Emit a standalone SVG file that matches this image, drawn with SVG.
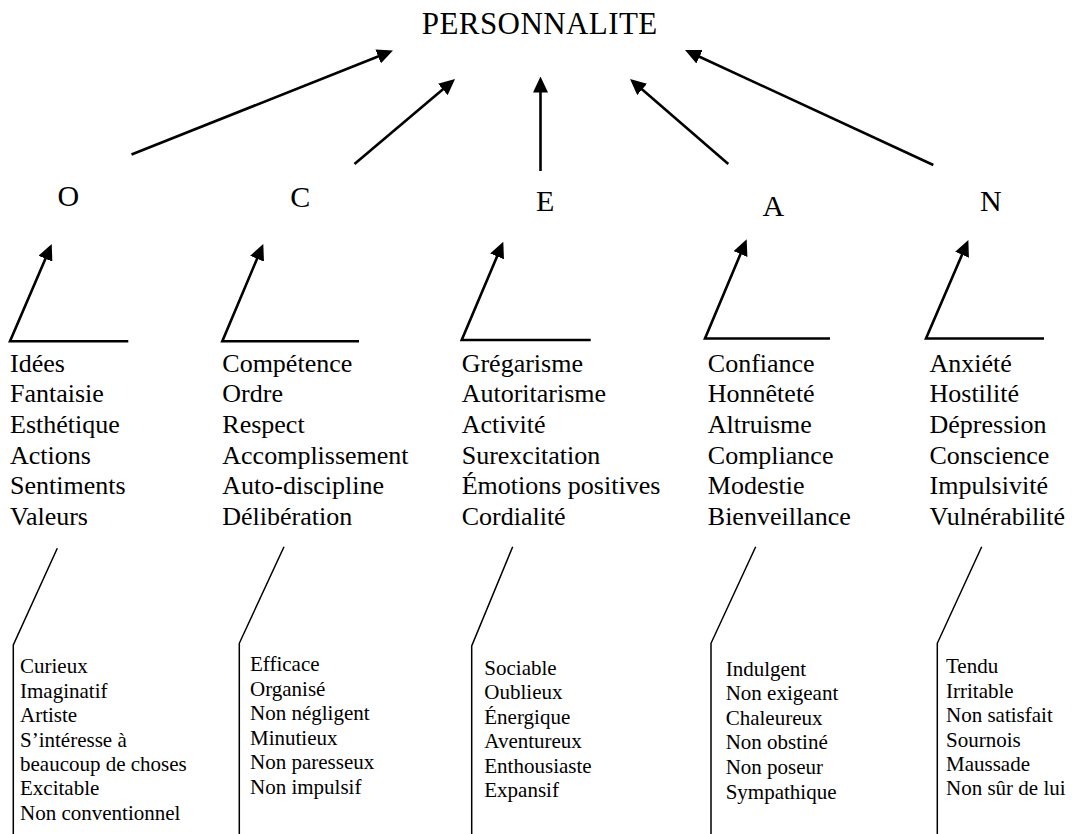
<svg xmlns="http://www.w3.org/2000/svg" width="1075" height="834" viewBox="0 0 1075 834">
<style>
text{font-family:"Liberation Serif","Times New Roman",serif;fill:#000}
.title{font-size:31px}
.dim{font-size:30px;text-anchor:middle}
.facet{font-size:26px}
.adj{font-size:21px}
.arr{fill:none;stroke:#000;stroke-width:2.6}
.brk{fill:none;stroke:#000;stroke-width:1.5}
</style>
<defs>
<marker id="ah" markerUnits="userSpaceOnUse" markerWidth="16" markerHeight="15" refX="6" refY="7.5" orient="auto" viewBox="0 0 16 15">
<path d="M0,0 L16,7.5 L0,15 z" fill="#000"/>
</marker>
</defs>
<rect width="1075" height="834" fill="#fff"/>
<g id="connectors">
<line class="arr" x1="131.5" y1="154.5" x2="383.7" y2="54.2" marker-end="url(#ah)"/>
<line class="arr" x1="354.5" y1="164" x2="447.4" y2="85.5" marker-end="url(#ah)"/>
<line class="arr" x1="540.5" y1="171" x2="540.5" y2="86.5" marker-end="url(#ah)"/>
<line class="arr" x1="728.3" y1="164" x2="637.6" y2="85.5" marker-end="url(#ah)"/>
<line class="arr" x1="933.3" y1="165" x2="694.1" y2="54.2" marker-end="url(#ah)"/>
<polyline class="arr" points="128.3,341.3 10,341.3 47.8,253.2" marker-end="url(#ah)"/>
<polyline class="arr" points="359,341.3 222.3,341.3 259.4,253.2" marker-end="url(#ah)"/>
<polyline class="arr" points="590.7,340 461.7,340 499.4,250.9" marker-end="url(#ah)"/>
<polyline class="arr" points="830,338.5 705,338.5 742.8,248.5" marker-end="url(#ah)"/>
<polyline class="arr" points="1044,338.5 926,338.5 964.4,249.2" marker-end="url(#ah)"/>
<polyline class="brk" points="57.3,548.3 13.3,645 13.3,834"/>
<polyline class="brk" points="284,546.7 239.3,643.3 239.3,834"/>
<polyline class="brk" points="512.7,546.7 471.7,646 471.7,834"/>
<polyline class="brk" points="755.7,546.7 711,643.3 711,834"/>
<polyline class="brk" points="981.7,546.7 937.3,643.3 937.3,834"/>
</g>
<g id="node-personnalite"><text class="title" x="421.7" y="34.3" textLength="235.6" lengthAdjust="spacing">PERSONNALITE</text></g>
<g id="node-O"><text class="dim" x="68.3" y="206">O</text></g>
<g id="node-C"><text class="dim" x="300.3" y="206.7">C</text></g>
<g id="node-E"><text class="dim" x="545.2" y="211">E</text></g>
<g id="node-A"><text class="dim" x="773.3" y="216">A</text></g>
<g id="node-N"><text class="dim" x="990.8" y="210.7">N</text></g>
<g id="facets-O"><text class="facet" x="10" y="371.7">Idées<tspan x="10" dy="30.6">Fantaisie</tspan><tspan x="10" dy="30.6">Esthétique</tspan><tspan x="10" dy="30.6">Actions</tspan><tspan x="10" dy="30.6">Sentiments</tspan><tspan x="10" dy="30.6">Valeurs</tspan></text></g>
<g id="facets-C"><text class="facet" x="222.3" y="371.7">Compétence<tspan x="222.3" dy="30.6">Ordre</tspan><tspan x="222.3" dy="30.6">Respect</tspan><tspan x="222.3" dy="30.6">Accomplissement</tspan><tspan x="222.3" dy="30.6">Auto-discipline</tspan><tspan x="222.3" dy="30.6">Délibération</tspan></text></g>
<g id="facets-E"><text class="facet" x="461.7" y="371.7">Grégarisme<tspan x="461.7" dy="30.6">Autoritarisme</tspan><tspan x="461.7" dy="30.6">Activité</tspan><tspan x="461.7" dy="30.6">Surexcitation</tspan><tspan x="461.7" dy="30.6">Émotions positives</tspan><tspan x="461.7" dy="30.6">Cordialité</tspan></text></g>
<g id="facets-A"><text class="facet" x="707.8" y="371.7">Confiance<tspan x="707.8" dy="30.6">Honnêteté</tspan><tspan x="707.8" dy="30.6">Altruisme</tspan><tspan x="707.8" dy="30.6">Compliance</tspan><tspan x="707.8" dy="30.6">Modestie</tspan><tspan x="707.8" dy="30.6">Bienveillance</tspan></text></g>
<g id="facets-N"><text class="facet" x="929.5" y="371.7">Anxiété<tspan x="929.5" dy="30.6">Hostilité</tspan><tspan x="929.5" dy="30.6">Dépression</tspan><tspan x="929.5" dy="30.6">Conscience</tspan><tspan x="929.5" dy="30.6">Impulsivité</tspan><tspan x="929.5" dy="30.6">Vulnérabilité</tspan></text></g>
<g id="adjectives-O"><text class="adj" x="20" y="673.3">Curieux<tspan x="20" dy="24.4">Imaginatif</tspan><tspan x="20" dy="24.4">Artiste</tspan><tspan x="20" dy="24.4">S’intéresse à</tspan><tspan x="20" dy="24.4">beaucoup de choses</tspan><tspan x="20" dy="24.4">Excitable</tspan><tspan x="20" dy="24.4">Non conventionnel</tspan></text></g>
<g id="adjectives-C"><text class="adj" x="250" y="671">Efficace<tspan x="250" dy="24.5">Organisé</tspan><tspan x="250" dy="24.5">Non négligent</tspan><tspan x="250" dy="24.5">Minutieux</tspan><tspan x="250" dy="24.5">Non paresseux</tspan><tspan x="250" dy="24.5">Non impulsif</tspan></text></g>
<g id="adjectives-E"><text class="adj" x="484.3" y="675">Sociable<tspan x="484.3" dy="24.4">Oublieux</tspan><tspan x="484.3" dy="24.4">Énergique</tspan><tspan x="484.3" dy="24.4">Aventureux</tspan><tspan x="484.3" dy="24.4">Enthousiaste</tspan><tspan x="484.3" dy="24.4">Expansif</tspan></text></g>
<g id="adjectives-A"><text class="adj" x="725.7" y="675.5">Indulgent<tspan x="725.7" dy="24.6">Non exigeant</tspan><tspan x="725.7" dy="24.6">Chaleureux</tspan><tspan x="725.7" dy="24.6">Non obstiné</tspan><tspan x="725.7" dy="24.6">Non poseur</tspan><tspan x="725.7" dy="24.6">Sympathique</tspan></text></g>
<g id="adjectives-N"><text class="adj" x="946" y="673.3">Tendu<tspan x="946" dy="24.4">Irritable</tspan><tspan x="946" dy="24.4">Non satisfait</tspan><tspan x="946" dy="24.4">Sournois</tspan><tspan x="946" dy="24.4">Maussade</tspan><tspan x="946" dy="24.4">Non sûr de lui</tspan></text></g>
</svg>
